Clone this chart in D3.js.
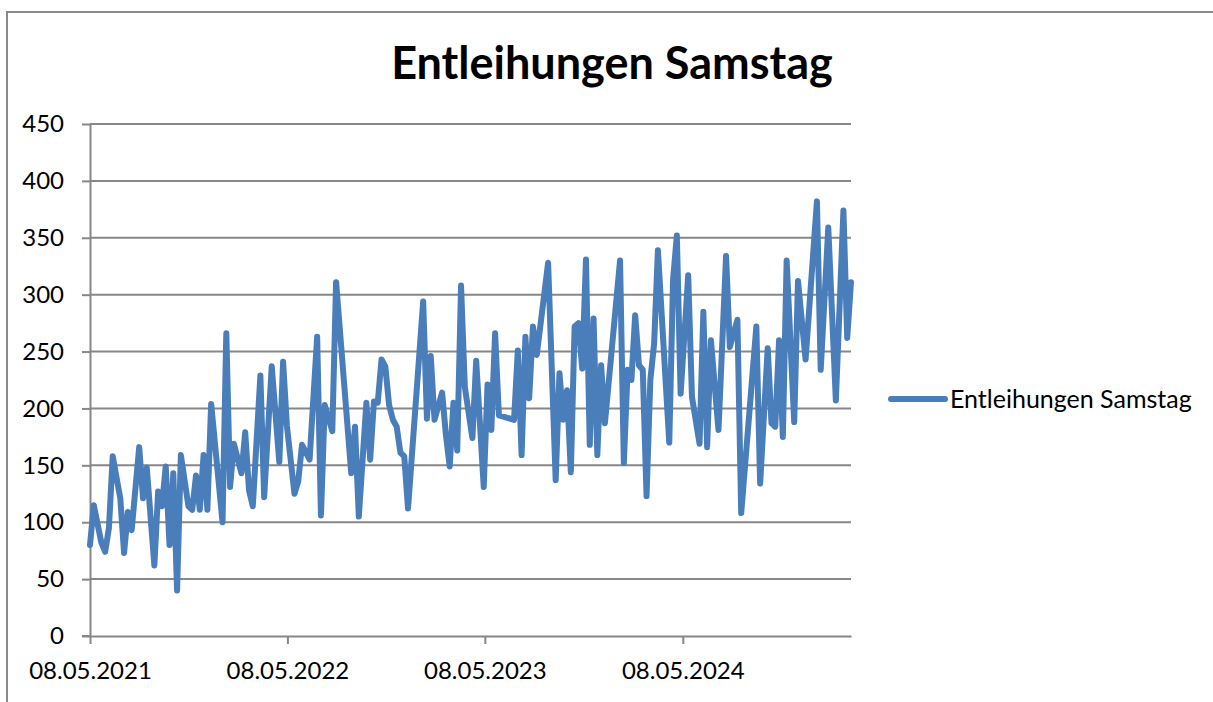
<!DOCTYPE html>
<html>
<head>
<meta charset="utf-8">
<script src="https://cdn.jsdelivr.net/npm/d3@7/dist/d3.min.js"></script>
<style>
  html, body { margin: 0; padding: 0; background: #ffffff; }
  svg { display: block; }
</style>
</head>
<body>
<svg id="chart" width="1213" height="702"></svg>
<script>
// ---- data ----
const chartTitle = "Entleihungen Samstag";
const seriesName = "Entleihungen Samstag";
const firstSaturday = "08.05.2021";
const lastSaturday = "15.03.2025";
// week number (Saturdays since 08.05.2021) of each reading
const weekIndex = [
  0, 1, 3, 4, 5, 6, 8, 9, 10, 11, 13, 14, 15, 17, 18, 19, 20, 21, 22, 23,
  24, 26, 27, 28, 29, 30, 31, 32, 35, 36, 37, 38, 40, 41, 42, 43, 45, 46, 48, 50,
  51, 52, 54, 55, 56, 58, 60, 61, 62, 64, 65, 69, 70, 71, 73, 74, 75, 76, 77, 78,
  79, 80, 81, 82, 83, 84, 88, 89, 90, 91, 93, 94, 95, 96, 97, 98, 99, 101, 102, 104,
  105, 106, 107, 108, 112, 113, 114, 115, 116, 117, 118, 121, 123, 124, 125, 126, 127, 128, 129, 130,
  131, 132, 133, 134, 135, 136, 140, 141, 142, 143, 144, 145, 146, 147, 148, 149, 150, 153, 154, 155,
  156, 158, 159, 161, 162, 163, 164, 166, 168, 169, 171, 172, 176, 177, 179, 180, 181, 182, 183, 184,
  186, 187, 189, 192, 193, 195, 197, 199, 200, 201
];
const loans = [
  80, 115, 82, 74, 95, 158, 121, 73, 109, 93, 166, 121, 148, 62, 127, 114, 149, 80, 143, 40,
  159, 114, 111, 141, 111, 159, 111, 204, 100, 266, 131, 169, 143, 179, 128, 114, 229, 122, 237, 153,
  241, 185, 125, 136, 168, 155, 263, 106, 203, 180, 311, 143, 184, 105, 205, 155, 206, 205, 243, 237,
  203, 190, 184, 161, 158, 112, 294, 191, 246, 190, 214, 177, 149, 205, 163, 308, 219, 174, 242, 131,
  221, 181, 266, 194, 190, 251, 159, 263, 209, 272, 247, 328, 137, 231, 190, 216, 144, 272, 275, 235,
  331, 168, 279, 159, 238, 187, 330, 152, 234, 225, 282, 238, 234, 123, 225, 257, 339, 170, 313, 352,
  213, 317, 210, 169, 285, 166, 260, 181, 334, 254, 278, 108, 272, 134, 253, 187, 184, 260, 175, 330,
  188, 312, 243, 382, 234, 359, 207, 374, 262, 311
];
const xTickLabels = ["08.05.2021", "08.05.2022", "08.05.2023", "08.05.2024"];
const yTicks = [0, 50, 100, 150, 200, 250, 300, 350, 400, 450];

// ---- chart ----
const parse = d3.timeParse("%d.%m.%Y");
const fmt = d3.timeFormat("%d.%m.%Y");
const start = parse(firstSaturday);
const data = weekIndex.map((w, i) => ({ date: d3.timeWeek.offset(start, w), value: loans[i] }));

const svg = d3.select("#chart");
const FONT = "Lato, 'Open Sans', sans-serif";
const gridColor = "#878787";
const lineColor = "#4a7ebb";

const plot = { left: 90, right: 851, top: 124, bottom: 636 };

const x = d3.scaleTime()
  .domain([start, parse(lastSaturday)])
  .range([plot.left, plot.right]);
const y = d3.scaleLinear()
  .domain([0, 450])
  .range([plot.bottom, plot.top]);

// outer chart border
svg.append("rect")
  .attr("x", 7).attr("y", 12)
  .attr("width", 1220).attr("height", 710)
  .attr("fill", "#ffffff")
  .attr("stroke", "#8a8a8a")
  .attr("stroke-width", 2);

// horizontal grid lines
svg.append("g")
  .selectAll("line")
  .data(yTicks.filter(t => t > 0))
  .join("line")
  .attr("x1", plot.left).attr("x2", plot.right)
  .attr("y1", d => y(d)).attr("y2", d => y(d))
  .attr("stroke", gridColor)
  .attr("stroke-width", 2);

// y axis
const yAxis = svg.append("g")
  .attr("transform", `translate(${plot.left},0)`)
  .call(d3.axisLeft(y).tickValues(yTicks).tickSizeInner(8).tickSizeOuter(0).tickPadding(18));
yAxis.select(".domain").attr("stroke", gridColor).attr("stroke-width", 2);
yAxis.selectAll(".tick line").attr("stroke", gridColor).attr("stroke-width", 2);
yAxis.selectAll(".tick text")
  .attr("font-family", FONT).attr("font-size", 24).attr("fill", "#000");

// x axis
const xAxis = svg.append("g")
  .attr("transform", `translate(0,${plot.bottom})`)
  .call(d3.axisBottom(x)
    .tickValues(xTickLabels.map(parse))
    .tickFormat(fmt)
    .tickSizeInner(8).tickSizeOuter(0).tickPadding(18));
xAxis.select(".domain")
  .attr("stroke", gridColor).attr("stroke-width", 2);
xAxis.selectAll(".tick line").attr("stroke", gridColor).attr("stroke-width", 2);
xAxis.selectAll(".tick text")
  .attr("font-family", FONT).attr("font-size", 24).attr("fill", "#000");
// extend x axis line to the left under the y tick marks
svg.append("line")
  .attr("x1", plot.left - 8).attr("x2", plot.left)
  .attr("y1", y(0)).attr("y2", y(0))
  .attr("stroke", gridColor).attr("stroke-width", 2);

// data line
const line = d3.line().x(d => x(d.date)).y(d => y(d.value));
svg.append("path")
  .datum(data)
  .attr("d", line)
  .attr("fill", "none")
  .attr("stroke", lineColor)
  .attr("stroke-width", 6)
  .attr("stroke-linejoin", "round")
  .attr("stroke-linecap", "round");

// title
svg.append("text")
  .attr("x", 612).attr("y", 79)
  .attr("text-anchor", "middle")
  .attr("font-family", FONT)
  .attr("font-weight", "bold")
  .attr("font-size", 45)
  .attr("fill", "#000")
  .text(chartTitle);

// legend
const legend = svg.append("g").attr("transform", "translate(891,399)");
legend.append("line")
  .attr("x1", 0).attr("x2", 54)
  .attr("y1", 0).attr("y2", 0)
  .attr("stroke", lineColor)
  .attr("stroke-width", 6)
  .attr("stroke-linecap", "round");
legend.append("text")
  .attr("x", 59).attr("y", 0)
  .attr("dy", "0.35em")
  .attr("font-family", FONT)
  .attr("font-size", 25)
  .attr("fill", "#000")
  .text(seriesName);
</script>
</body>
</html>
